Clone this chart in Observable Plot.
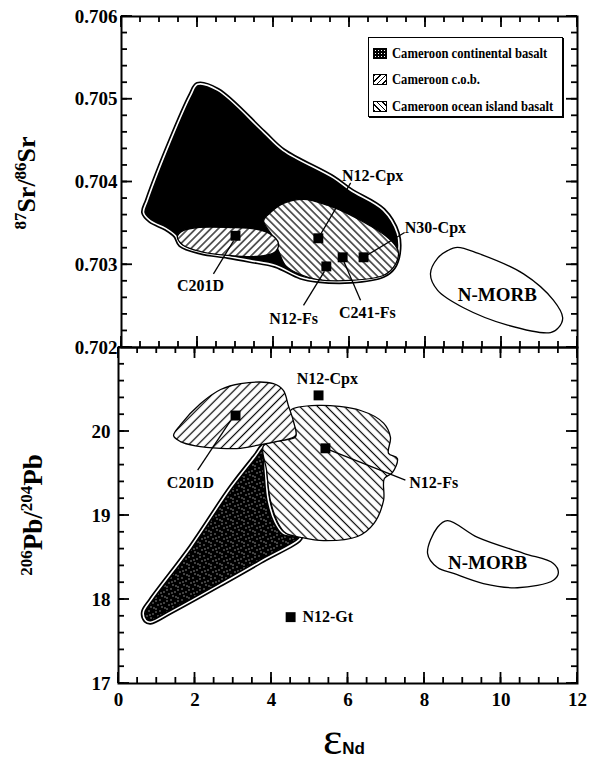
<!DOCTYPE html>
<html>
<head>
<meta charset="utf-8">
<script src="https://cdn.jsdelivr.net/npm/d3@7"></script>
<script src="https://cdn.jsdelivr.net/npm/@observablehq/plot@0.6"></script>
<style>
  html, body { margin: 0; padding: 0; background: white; }
  #wrap { position: relative; width: 593px; height: 763px; overflow: hidden; font-family: 'Liberation Serif', 'Times New Roman', serif; color: black; }
  #wrap > svg { position: absolute; left: 0; }
  .ytitle { position: absolute; transform: translate(-50%, -50%) rotate(-90deg); white-space: nowrap; font-weight: bold; line-height: 1; }
  .ytitle sup { vertical-align: 0.55em; line-height: 0; }
  #legend { position: absolute; left: 368px; top: 37px; width: 193px; height: 78px; border: 1.5px solid black; box-shadow: 1px 1px 0 black; background: white; z-index: 5; }
  .lrow { position: absolute; left: 4px; height: 16px; display: flex; align-items: center; font-weight: bold; font-size: 15px; white-space: nowrap; }
  .lrow span { display: inline-block; transform: scaleX(0.84); transform-origin: left center; }
  .sw { width: 14px; height: 11px; border: 1.2px solid black; margin-right: 5px; box-sizing: border-box; flex: none; }
</style>
</head>
<body>
<div id="wrap"></div>
<script>
// ---------- data ----------
// upper panel : 87Sr/86Sr vs eNd
const contSrX = [0.58,0.68,1.29,1.82,2.00,2.53,3.74,4.26,5.58,6.03,6.89,7.26,7.29,7.16,6.89,6.03,5.16,4.71,4.05,3.39,2.79,2.08,1.55,1.42,1.16,0.76];
const contSrY = [0.70363,0.70378,0.70450,0.70505,0.70518,0.70511,0.70460,0.70438,0.70405,0.70390,0.70366,0.70338,0.70314,0.70297,0.70287,0.70280,0.70281,0.70285,0.70299,0.70305,0.70310,0.70315,0.70324,0.70335,0.70344,0.70353];
const cobSrX = [1.47,1.61,2.00,2.87,3.53,3.92,4.13,4.03,3.53,2.87,2.08,1.61];
const cobSrY = [0.70334,0.70341,0.70345,0.70345,0.70343,0.70337,0.70326,0.70315,0.70310,0.70311,0.70316,0.70324];
const oibSrX = [3.74,3.92,4.26,4.79,5.42,6.03,6.55,6.95,7.21,7.29,7.16,6.89,6.03,5.16,4.71,4.32,4.13,3.97];
const oibSrY = [0.70353,0.70363,0.70374,0.70379,0.70372,0.70360,0.70347,0.70335,0.70323,0.70314,0.70297,0.70287,0.70281,0.70282,0.70288,0.70299,0.70317,0.70335];
const morbSrX = [8.13,8.32,8.58,8.84,9.37,10.58,11.37,11.61,11.50,11.29,10.16,9.00,8.32];
const morbSrY = [0.70289,0.70308,0.70317,0.70321,0.70314,0.70289,0.70257,0.70236,0.70224,0.70218,0.70227,0.70248,0.70269];
const ptSrName = ["C201D","N12-Cpx","N12-Fs","C241-Fs","N30-Cpx"];
const ptSrX = [3.00,5.18,5.39,5.82,6.37];
const ptSrY = [0.70335,0.70332,0.70298,0.70309,0.70309];
const lbSrX = [2.08,6.61,4.53,6.47,8.26];
const lbSrY = [0.70275,0.70408,0.70235,0.70242,0.70344];
const ldSrX1 = [2.42,6.03,4.79,6.29,7.45];
const ldSrY1 = [0.70289,0.70399,0.70251,0.70257,0.70339];
const ldSrX2 = [2.95,5.18,5.34,5.84,6.37];
const ldSrY2 = [0.70329,0.70332,0.70292,0.70305,0.70309];
const morbSrLabel = {text: "N-MORB", x: 9.89, y: 0.70263};

// lower panel : 206Pb/204Pb vs eNd
const contPbX = [3.79,3.58,2.93,1.88,0.84,0.65,0.71,0.84,1.36,2.67,3.71,4.76,4.31,4.10,3.92,3.84];
const contPbY = [19.83,19.71,19.33,18.62,17.99,17.85,17.75,17.73,17.85,18.18,18.45,18.74,18.79,18.92,19.18,19.54];
const oibPbX = [3.79,4.24,4.63,4.55,4.50,5.20,6.33,6.93,7.11,7.06,7.29,7.16,6.95,6.93,6.67,6.25,5.36,4.76,4.37,4.16,3.97,3.87];
const oibPbY = [19.83,19.89,19.94,20.13,20.25,20.31,20.25,20.10,19.93,19.74,19.68,19.51,19.44,19.18,18.90,18.75,18.70,18.74,18.79,18.92,19.18,19.54];
const cobPbX = [1.44,1.62,2.14,2.67,3.19,4.05,4.31,4.44,4.58,4.63,4.24,3.79,3.19,2.67,2.01,1.62];
const cobPbY = [19.95,20.08,20.33,20.50,20.57,20.57,20.49,20.31,20.11,19.95,19.89,19.85,19.80,19.80,19.83,19.88];
const morbPbX = [8.08,8.34,8.60,9.39,10.59,11.37,11.50,11.37,10.43,9.54,8.76,8.34];
const morbPbY = [18.55,18.86,18.94,18.74,18.55,18.43,18.32,18.23,18.14,18.19,18.31,18.38];
const ptPbName = ["C201D","N12-Cpx","N12-Fs","N12-Gt"];
const ptPbX = [3.06,5.23,5.41,4.50];
const ptPbY = [20.19,20.43,19.80,17.79];
const lbPbX = [1.88,5.46,8.24,4.81];
const lbPbY = [19.39,20.63,19.39,17.79];
const lbPbAnchor = ["middle","middle","middle","start"];
const ldPbX1 = [2.07,7.50];
const ldPbY1 = [19.54,19.42];
const ldPbX2 = [2.93,5.41];
const ldPbY2 = [20.13,19.80];
const morbPbLabel = {text: "N-MORB", x: 9.65, y: 18.44};

// axes ticks
const xMajor = [0,2,4,6,8,10,12];
const xMinor = d3.range(0, 25).map(i => i * 0.5);
const ySrMajor = [0.702,0.703,0.704,0.705,0.706];
const ySrMinor = d3.range(0, 21).map(i => 0.702 + i * 0.0002);
const yPbMajor = [17,18,19,20,21];
const yPbLabels = [17,18,19,20];
const yPbMinor = d3.range(0, 21).map(i => 17 + i * 0.2);

const legendItems = ["Cameroon continental basalt", "Cameroon c.o.b.", "Cameroon ocean island basalt"];

// ---------- helpers ----------
const SERIF = "'Liberation Serif', 'Times New Roman', serif";
const rows = (xs, ys) => xs.map((x, i) => ({x, y: ys[i]}));

function defsMark(prefix, gap) {
  return () => {
    const d = d3.create("svg:defs");
    const mk = (id, angle) => {
      const p = d.append("pattern").attr("id", prefix + id).attr("patternUnits", "userSpaceOnUse")
        .attr("width", gap).attr("height", gap).attr("patternTransform", `rotate(${angle})`);
      p.append("rect").attr("width", gap).attr("height", gap).attr("fill", "white");
      p.append("line").attr("x1", gap / 2).attr("x2", gap / 2).attr("y1", 0).attr("y2", gap)
        .attr("stroke", "black").attr("stroke-width", 1.2);
    };
    mk("fwd", 45);
    mk("back", -45);
    const s = d.append("pattern").attr("id", prefix + "speck").attr("patternUnits", "userSpaceOnUse")
      .attr("width", 11).attr("height", 11);
    s.append("rect").attr("width", 11).attr("height", 11).attr("fill", "black");
    [[1,2],[5,1],[9,4],[3,6],[7,8],[1,10],[6,5],[10,9]].forEach(([cx, cy]) =>
      s.append("rect").attr("x", cx).attr("y", cy).attr("width", 1).attr("height", 1).attr("fill", "white"));
    return d.node();
  };
}

// inward tick marks on the four sides, placed through the plot's own scales
function tickMark(yMaj, yMin) {
  return (index, scales, values, dim) => {
    const {x, y} = scales;
    const L = dim.marginLeft, R = dim.width - dim.marginRight;
    const T = dim.marginTop, B = dim.height - dim.marginBottom;
    const g = d3.create("svg:g").attr("stroke", "black").attr("stroke-width", 1.8).attr("fill", "none");
    const seg = (x1, y1, x2, y2) => g.append("line").attr("x1", x1).attr("y1", y1).attr("x2", x2).attr("y2", y2);
    for (const [vals, len] of [[xMajor, 11], [xMinor, 6]]) for (const v of vals) {
      const px = x(v);
      seg(px, T, px, T + len);
      seg(px, B, px, B - len);
    }
    for (const [vals, len] of [[yMaj, 11], [yMin, 6]]) for (const v of vals) {
      const py = y(v);
      seg(L, py, L + len, py);
      seg(R, py, R - len, py);
    }
    return g.node();
  };
}

function region(data, fill) {
  return Plot.line(data, {x: "x", y: "y", curve: "catmull-rom-closed", fill, stroke: "black", strokeWidth: 1.3, strokeLinejoin: "round"});
}
function blackRegion(data, fill = "black") {
  return [
    Plot.line(data, {x: "x", y: "y", curve: "catmull-rom-closed", fill, stroke: "black", strokeWidth: 5, strokeLinejoin: "round"}),
    Plot.line(data, {x: "x", y: "y", curve: "catmull-rom-closed", fill: "none", stroke: "white", strokeWidth: 1.6, strokeLinejoin: "round"})
  ];
}
const labelStyle = {fontFamily: SERIF, fontWeight: "bold", fontSize: 16, fill: "black"};

// ---------- upper plot ----------
const plotTop = Plot.plot({
  width: 593, height: 360,
  marginTop: 16, marginBottom: 13, marginLeft: 121, marginRight: 16,
  x: {domain: [0, 12], axis: null},
  y: {domain: [0.702, 0.706]},
  style: {background: "transparent", overflow: "visible", fontFamily: SERIF, color: "black"},
  marks: [
    defsMark("sr", 5.3),
    ...blackRegion(rows(contSrX, contSrY)),
    region(rows(oibSrX, oibSrY), "url(#srback)"),
    region(rows(cobSrX, cobSrY), "url(#srfwd)"),
    region(rows(morbSrX, morbSrY), "none"),
    Plot.link(ldSrX1.map((d, i) => i), {x1: i => ldSrX1[i], y1: i => ldSrY1[i], x2: i => ldSrX2[i], y2: i => ldSrY2[i], stroke: "black", strokeWidth: 1.3}),
    Plot.dot(ptSrName.map((n, i) => ({n, x: ptSrX[i], y: ptSrY[i]})), {x: "x", y: "y", symbol: "square", r: 5.6, fill: "black", stroke: "none"}),
    Plot.text(ptSrName.map((n, i) => ({n, x: lbSrX[i], y: lbSrY[i]})), {x: "x", y: "y", text: "n", ...labelStyle}),
    Plot.text([morbSrLabel], {x: "x", y: "y", text: "text", ...labelStyle, fontSize: 19}),
    tickMark(ySrMajor, ySrMinor),
    Plot.frame({stroke: "black", strokeWidth: 2}),
    Plot.axisY({anchor: "left", ticks: ySrMajor, tickSize: 0, tickPadding: 4, tickFormat: d3.format(".3f"), label: null, fontSize: 19, fontWeight: "bold", fontFamily: SERIF})
  ]
});
plotTop.style.top = "0px";

// ---------- lower plot ----------
const plotBottom = Plot.plot({
  width: 593, height: 429,
  marginTop: 13, marginBottom: 80, marginLeft: 118, marginRight: 16,
  x: {domain: [0, 12]},
  y: {domain: [17, 21]},
  style: {background: "transparent", overflow: "visible", fontFamily: SERIF, color: "black"},
  marks: [
    defsMark("pb", 6.3),
    ...blackRegion(rows(contPbX, contPbY), "url(#pbspeck)"),
    region(rows(oibPbX, oibPbY), "url(#pbback)"),
    region(rows(cobPbX, cobPbY), "url(#pbfwd)"),
    region(rows(morbPbX, morbPbY), "none"),
    Plot.link(ldPbX1.map((d, i) => i), {x1: i => ldPbX1[i], y1: i => ldPbY1[i], x2: i => ldPbX2[i], y2: i => ldPbY2[i], stroke: "black", strokeWidth: 1.3}),
    Plot.dot(ptPbName.map((n, i) => ({n, x: ptPbX[i], y: ptPbY[i]})), {x: "x", y: "y", symbol: "square", r: 5.6, fill: "black", stroke: "none"}),
    Plot.text(ptPbName.map((n, i) => ({n, x: lbPbX[i], y: lbPbY[i], a: lbPbAnchor[i]})).filter(d => d.a === "middle"), {x: "x", y: "y", text: "n", ...labelStyle}),
    Plot.text(ptPbName.map((n, i) => ({n, x: lbPbX[i], y: lbPbY[i], a: lbPbAnchor[i]})).filter(d => d.a === "start"), {x: "x", y: "y", text: "n", textAnchor: "start", ...labelStyle}),
    Plot.text([morbPbLabel], {x: "x", y: "y", text: "text", ...labelStyle, fontSize: 19}),
    tickMark(yPbMajor, yPbMinor),
    Plot.frame({stroke: "black", strokeWidth: 2}),
    Plot.axisY({anchor: "left", ticks: yPbLabels, tickSize: 0, tickPadding: 8, tickFormat: d3.format("d"), label: null, fontSize: 19, fontWeight: "bold", fontFamily: SERIF}),
    Plot.axisX({anchor: "bottom", ticks: xMajor, tickSize: 0, tickPadding: 9, tickFormat: d3.format("d"), label: null, fontSize: 19, fontWeight: "bold", fontFamily: SERIF})
  ]
});
plotBottom.style.top = "334px";

const wrap = document.getElementById("wrap");
wrap.append(plotBottom, plotTop);

// titles
const t1 = document.createElement("div");
t1.className = "ytitle";
t1.style.cssText = "left:27px;top:183px;font-size:26px;";
t1.innerHTML = '<sup style="font-size:17px">87</sup>Sr/<sup style="font-size:17px">86</sup>Sr';
const t2 = document.createElement("div");
t2.className = "ytitle";
t2.style.cssText = "left:33px;top:515px;font-size:27px;";
t2.innerHTML = '<sup style="font-size:17px">206</sup>Pb/<sup style="font-size:17px">204</sup>Pb';
const tx = document.createElement("div");
tx.style.cssText = "position:absolute;left:323px;top:716px;line-height:1;white-space:nowrap;";
tx.innerHTML = '<span style="font-family:\'Liberation Serif\', serif;font-size:46px;">ε</span><span style="font-family:\'Liberation Sans\', Arial, sans-serif;font-weight:bold;font-size:17px;">Nd</span>';
wrap.append(t1, t2, tx);

// legend
const lg = document.createElement("div");
lg.id = "legend";
const swStyles = [
  "background-color:black;background-image:radial-gradient(circle, white 0.6px, transparent 0.9px);background-size:3px 3px;",
  "background:repeating-linear-gradient(135deg, black 0 1.1px, white 1.1px 4px);",
  "background:repeating-linear-gradient(45deg, black 0 1.1px, white 1.1px 4px);"
];
legendItems.forEach((t, i) => {
  const r = document.createElement("div");
  r.className = "lrow";
  r.style.top = (7 + i * 26.5) + "px";
  r.innerHTML = `<div class="sw" style="${swStyles[i]}"></div><span>${t}</span>`;
  lg.append(r);
});
wrap.append(lg);
</script>
</body>
</html>
